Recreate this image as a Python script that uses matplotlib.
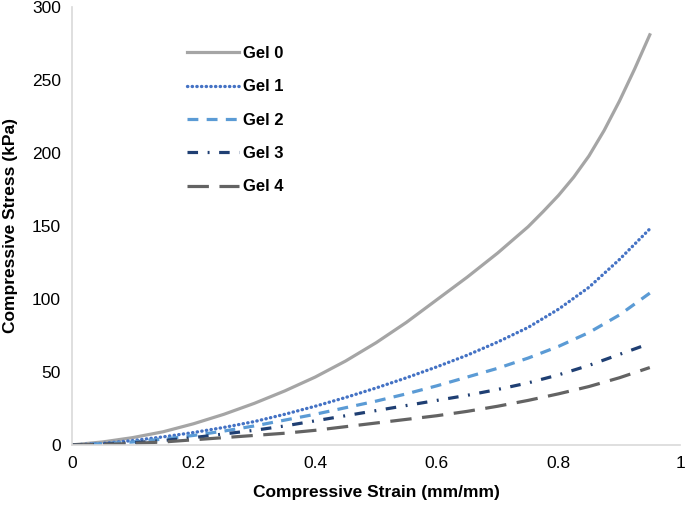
import matplotlib
matplotlib.use("Agg")
import matplotlib.pyplot as plt

plt.rcParams['font.family'] = ['Liberation Sans', 'DejaVu Sans']

strain = [0.0, 0.05, 0.1, 0.15, 0.2, 0.25, 0.3, 0.35, 0.4, 0.45, 0.5,
          0.55, 0.6, 0.65, 0.7, 0.75, 0.8, 0.85, 0.9, 0.95]
strain0 = [0.0, 0.05, 0.1, 0.15, 0.2, 0.25, 0.3, 0.35, 0.4, 0.45, 0.5,
           0.55, 0.6, 0.65, 0.7, 0.75, 0.775, 0.8, 0.825, 0.85, 0.875, 0.9, 0.925, 0.95]
gel0 = [0, 2, 5, 9, 14.5, 21, 28.5, 37, 46.5, 57.5, 70, 84, 99.5, 115, 131.5, 149.5,
        160, 171, 183.5, 198, 215.5, 235.5, 257.5, 281]
gel1 = [0, 1, 3, 5.5, 8.5, 12, 16, 21, 26.5, 32.5, 39, 46, 53.5, 61.5, 70.5, 80.5, 93, 108, 127, 148]
gel2 = [0, 0.8, 2, 4, 6.5, 9.5, 13, 17, 21, 25.5, 30, 35, 40.5, 46.5, 52.5, 59.5, 67.5, 77, 89, 104]
gel3 = [0, 0.5, 1.5, 3, 5, 7.5, 10, 13, 16.5, 20, 23.5, 27, 30.5, 34, 38, 42.5, 48, 54.5, 62, 69.5]
gel4 = [0, 0.3, 1, 2, 3.5, 5, 6.5, 8, 10, 12.5, 15, 17.5, 20, 23, 26.5, 30.5, 35, 40, 46, 53]
labels = ["Gel 0", "Gel 1", "Gel 2", "Gel 3", "Gel 4"]

fig = plt.figure(figsize=(6.85, 5.05), dpi=100)
ax = fig.add_axes([0.105, 0.119, 0.888, 0.867])

ax.plot(strain0, gel0, color='#A5A5A5', lw=2.3, ls='-', label=labels[0])
ax.plot(strain, gel1, color='#4472C4', lw=2.4, ls=(0, (0.1, 1.3)),
        dash_capstyle='round', label=labels[1])
ax.plot(strain, gel2, color='#5B9BD5', lw=2.3, ls=(0, (3.4, 2.6)), label=labels[2])
ax.plot(strain, gel3, color='#1F3F73', lw=2.3, ls=(0, (3.3, 3, 0.6, 3)), label=labels[3])
ax.plot(strain, gel4, color='#636363', lw=2.3, ls=(0, (6.7, 3.3)), label=labels[4])

ax.set_xlim(0, 1)
ax.set_ylim(0, 300)
ax.set_xticks([0, 0.2, 0.4, 0.6, 0.8, 1.0])
ax.set_xticklabels(['0', '0.2', '0.4', '0.6', '0.8', '1'])
ax.set_yticks(range(0, 301, 50))
ax.tick_params(length=0, labelsize=12.5, colors='#000000', pad=8)
for s in ['top', 'right']:
    ax.spines[s].set_visible(False)
for s in ['left', 'bottom']:
    ax.spines[s].set_color('#D9D9D9')
    ax.spines[s].set_linewidth(1.2)

ax.set_xlabel('Compressive Strain (mm/mm)', fontsize=12.5, fontweight='bold', labelpad=10)
ax.set_ylabel('Compressive Stress (kPa)', fontsize=12.5, fontweight='bold', labelpad=10)

leg = ax.legend(loc='upper left', bbox_to_anchor=(0.165, 0.945), frameon=False,
                prop={'weight': 'bold', 'size': 12}, handlelength=3.1,
                handletextpad=0.25, labelspacing=1.1)

fig.savefig('out.png', dpi=100)
